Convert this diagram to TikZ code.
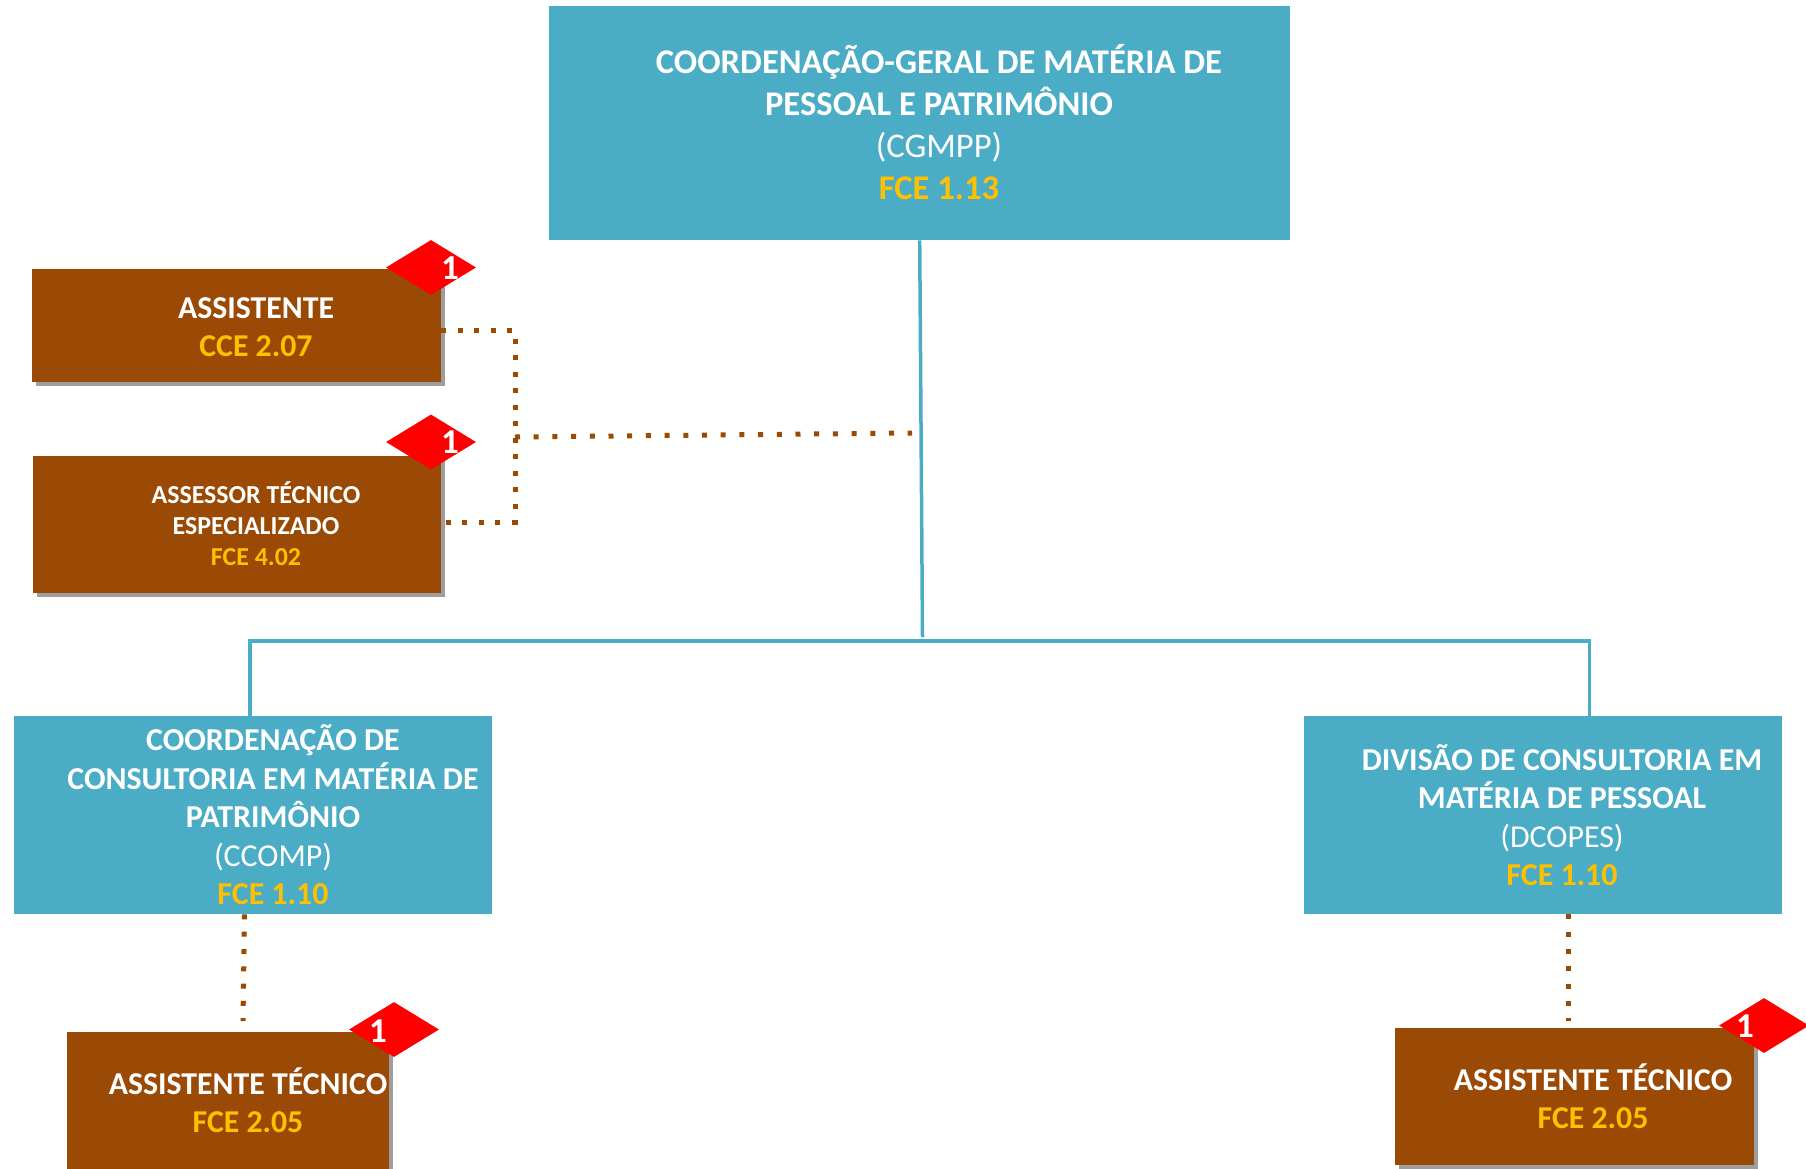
\documentclass[tikz,border=0pt]{standalone}
\usepackage{fontspec}
\setmainfont{Carlito}
\usetikzlibrary{shapes.geometric,shadows}
\definecolor{unitblue}{HTML}{4BACC6}
\definecolor{staffbrown}{HTML}{9B4A05}
\definecolor{feegold}{HTML}{FFC000}
\definecolor{shadowgrey}{HTML}{9E9E9E}
\newcommand{\fee}[1]{\textcolor{feegold}{\textbf{#1}}}
\tikzset{
  unitbox/.style={fill=unitblue,inner sep=0pt,anchor=north west},
  staffbox/.style={fill=staffbrown,inner sep=0pt,anchor=north west,
    drop shadow={shadow xshift=4pt,shadow yshift=-4pt,fill=shadowgrey,opacity=1}},
  badge/.style={diamond,fill=red,inner sep=0pt,minimum width=90pt,minimum height=55pt},
  badgenum/.style={text=white,font=\fontsize{35}{35}\selectfont\bfseries,inner sep=0pt},
  boxtext/.style={text=white,align=center,inner sep=0pt},
  solidlink/.style={unitblue,line width=3.5pt},
  dotlink/.style={staffbrown,line width=5pt,dash pattern=on 5pt off #1},
  dotlink/.default=11.5pt
}
\begin{document}
\begin{tikzpicture}[x=1pt,y=-1pt]
\clip (0,0) rectangle (1806,1168);

\node[unitbox,minimum width=741pt,minimum height=234pt] (cgmpp) at (549,6) {};
\node[unitbox,minimum width=478pt,minimum height=198pt] (ccomp) at (14,716) {};
\node[unitbox,minimum width=478pt,minimum height=198pt] (dcopes) at (1304,716) {};
\node[staffbox,minimum width=409pt,minimum height=113pt] (assist) at (32,269) {};
\node[staffbox,minimum width=408pt,minimum height=137pt] (assessor) at (33,456) {};
\node[staffbox,minimum width=322pt,minimum height=170pt] (techleft) at (67,1032) {};
\node[staffbox,minimum width=359pt,minimum height=137pt] (techright) at (1395,1028) {};

\coordinate (trunk) at (922.5,637);
\coordinate (busleft) at (250,641);
\coordinate (busright) at (1589.5,641);
\draw[solidlink] (cgmpp.south) -- (trunk);
\draw[solidlink] (ccomp.north -| busleft) -- (busleft) -- (busright) -- (dcopes.north -| busright);

\coordinate (elbowtop) at (515,330);
\coordinate (elbowbot) at (515,522);
\coordinate (branch) at (515,437);
\coordinate (branchend) at (912,433);
\coordinate (dotleft) at (243,1021);
\coordinate (dotright) at (1568,1021);
\draw[dotlink] (assist.east |- elbowtop) -- (elbowtop) -- (elbowbot) -- (assessor.east |- elbowbot);
\draw[dotlink=13.7pt] (branch) -- (branchend);
\draw[dotlink=12.3pt] (ccomp.south -| dotleft) ++(1.5,0) -- (dotleft);
\draw[dotlink=12.3pt] (dcopes.south -| dotright) -- (dotright);

\node[badge] (badgeassist) at (431,267.5) {};
\node[badge] (badgeassessor) at (431,442) {};
\node[badge] (badgeleft) at (394,1029.5) {};
\node[badge] (badgeright) at (1764,1025.5) {};
\node[badgenum] (numassist) at (450,268) {1};
\node[badgenum] (numassessor) at (450,442.5) {1};
\node[badgenum] (numleft) at (378,1031) {1};
\node[badgenum] (numright) at (1745,1026) {1};

\node[boxtext,font=\fontsize{34.6}{42}\selectfont] (cgmpptext) at (939,122)
  {\textbf{COORDENAÇÃO-GERAL DE MATÉRIA DE}\\\textbf{PESSOAL E PATRIMÔNIO}\\(CGMPP)\\\fee{FCE 1.13}};
\node[boxtext,font=\fontsize{31.9}{38.5}\selectfont] (ccomptext) at (273,815)
  {\textbf{COORDENAÇÃO DE}\\\textbf{CONSULTORIA EM MATÉRIA DE}\\\textbf{PATRIMÔNIO}\\(CCOMP)\\\fee{FCE 1.10}};
\node[boxtext,font=\fontsize{31.9}{38.5}\selectfont] (dcopestext) at (1562,815)
  {\textbf{DIVISÃO DE CONSULTORIA EM}\\\textbf{MATÉRIA DE PESSOAL}\\(DCOPES)\\\fee{FCE 1.10}};
\node[boxtext,font=\fontsize{31.8}{38}\selectfont] (assisttext) at (256,327)
  {\textbf{ASSISTENTE}\\\fee{CCE 2.07}};
\node[boxtext,font=\fontsize{25.9}{31}\selectfont] (assessortext) at (256,524)
  {\textbf{ASSESSOR TÉCNICO}\\\textbf{ESPECIALIZADO}\\\fee{FCE 4.02}};
\node[boxtext,font=\fontsize{31.8}{38}\selectfont] (techlefttext) at (248,1100)
  {\textbf{ASSISTENTE TÉCNICO}\\\fee{FCE 2.05}};
\node[boxtext,font=\fontsize{31.8}{38}\selectfont] (techrighttext) at (1593,1096)
  {\textbf{ASSISTENTE TÉCNICO}\\\fee{FCE 2.05}};
\end{tikzpicture}
\end{document}
